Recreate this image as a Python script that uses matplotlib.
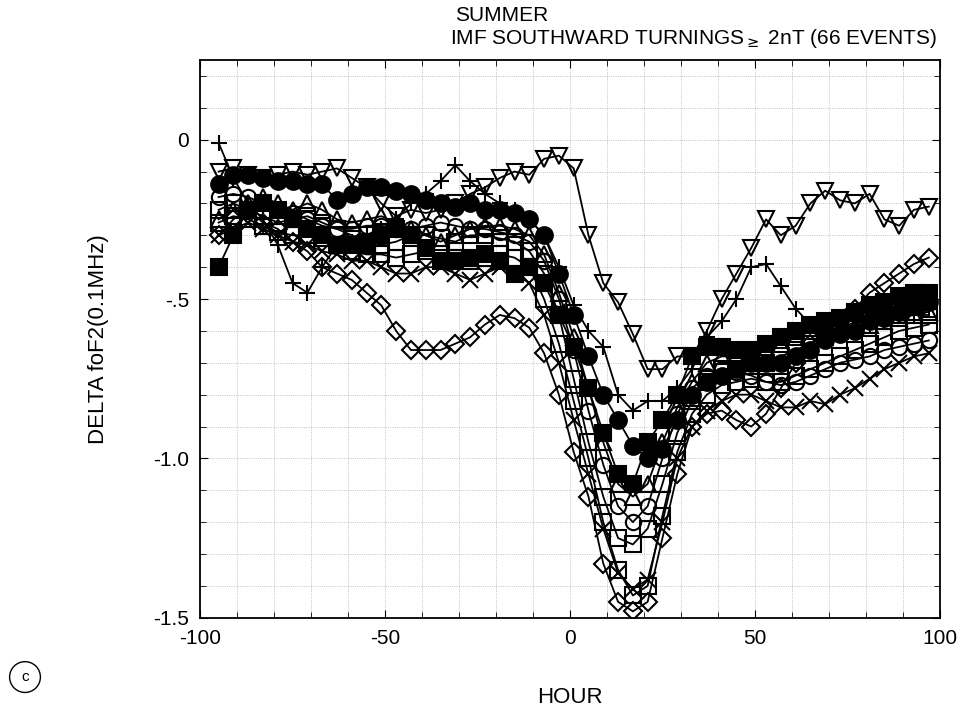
import numpy as np
import matplotlib
matplotlib.use('Agg')
import matplotlib.pyplot as plt
from matplotlib.ticker import MultipleLocator, FixedLocator

plt.rcParams['font.family'] = ['Liberation Sans', 'DejaVu Sans']

# hours since the IMF southward turning (sampled every 4 h)
hours = np.arange(-95, 98, 4)

tri_down = [-0.10, -0.09, -0.11, -0.12, -0.11, -0.10, -0.11, -0.10, -0.09, -0.12,
            -0.15, -0.20, -0.24, -0.22, -0.23, -0.22, -0.20, -0.17, -0.15, -0.12,
            -0.10, -0.11, -0.06, -0.05, -0.09, -0.30, -0.45, -0.51, -0.61, -0.72,
            -0.72, -0.68, -0.68, -0.60, -0.50, -0.42, -0.34, -0.25, -0.30, -0.27,
            -0.20, -0.16, -0.19, -0.20, -0.17, -0.25, -0.27, -0.22, -0.21]
plus = [-0.01, -0.12, -0.20, -0.25, -0.33, -0.45, -0.48, -0.40, -0.33, -0.32,
        -0.30, -0.28, -0.25, -0.20, -0.17, -0.13, -0.08, -0.13, -0.17, -0.20,
        -0.22, -0.25, -0.30, -0.40, -0.52, -0.60, -0.65, -0.80, -0.85, -0.82,
        -0.82, -0.78, -0.72, -0.62, -0.57, -0.50, -0.40, -0.39, -0.46, -0.53,
        -0.58, -0.60, -0.60, -0.57, -0.58, -0.57, -0.55, -0.55, -0.53]
dot = [-0.14, -0.11, -0.11, -0.12, -0.13, -0.13, -0.14, -0.14, -0.19, -0.17,
       -0.15, -0.15, -0.16, -0.17, -0.19, -0.20, -0.21, -0.20, -0.22, -0.22,
       -0.23, -0.25, -0.30, -0.42, -0.55, -0.68, -0.80, -0.88, -0.96, -1.00,
       -0.97, -0.88, -0.80, -0.76, -0.74, -0.72, -0.70, -0.70, -0.70, -0.68,
       -0.66, -0.63, -0.61, -0.60, -0.57, -0.56, -0.54, -0.52, -0.51]
block = [-0.40, -0.30, -0.22, -0.20, -0.22, -0.25, -0.28, -0.30, -0.33, -0.33,
         -0.33, -0.30, -0.28, -0.30, -0.34, -0.38, -0.38, -0.37, -0.36, -0.38,
         -0.42, -0.40, -0.45, -0.55, -0.65, -0.78, -0.92, -1.05, -1.08, -0.95,
         -0.88, -0.80, -0.68, -0.65, -0.65, -0.66, -0.66, -0.64, -0.62, -0.60,
         -0.58, -0.57, -0.56, -0.54, -0.52, -0.51, -0.49, -0.48, -0.48]
diamond = [-0.30, -0.25, -0.22, -0.26, -0.28, -0.32, -0.35, -0.40, -0.42, -0.44,
           -0.48, -0.52, -0.60, -0.66, -0.66, -0.66, -0.64, -0.62, -0.58, -0.55,
           -0.56, -0.59, -0.67, -0.80, -0.98, -1.12, -1.33, -1.45, -1.48, -1.45,
           -1.25, -1.05, -0.90, -0.86, -0.85, -0.88, -0.90, -0.86, -0.78, -0.70,
           -0.64, -0.60, -0.57, -0.53, -0.48, -0.45, -0.42, -0.39, -0.37]
square_a = [-0.22, -0.20, -0.22, -0.24, -0.26, -0.25, -0.24, -0.26, -0.28, -0.30,
            -0.32, -0.33, -0.32, -0.30, -0.30, -0.31, -0.32, -0.30, -0.30, -0.31,
            -0.32, -0.35, -0.42, -0.55, -0.75, -0.95, -1.12, -1.25, -1.27, -1.22,
            -1.08, -0.92, -0.82, -0.76, -0.72, -0.72, -0.71, -0.70, -0.68, -0.66,
            -0.64, -0.62, -0.60, -0.58, -0.55, -0.54, -0.53, -0.55, -0.55]
square_b = [-0.26, -0.24, -0.25, -0.27, -0.29, -0.30, -0.30, -0.31, -0.33, -0.35,
            -0.36, -0.36, -0.37, -0.36, -0.35, -0.36, -0.37, -0.38, -0.37, -0.36,
            -0.37, -0.40, -0.50, -0.64, -0.82, -1.00, -1.20, -1.35, -1.43, -1.40,
            -1.18, -0.98, -0.86, -0.80, -0.77, -0.76, -0.75, -0.76, -0.76, -0.74,
            -0.72, -0.70, -0.68, -0.66, -0.64, -0.62, -0.60, -0.59, -0.58]
cross = [-0.30, -0.28, -0.26, -0.28, -0.30, -0.32, -0.33, -0.35, -0.36, -0.38,
         -0.38, -0.40, -0.42, -0.42, -0.40, -0.40, -0.42, -0.44, -0.42, -0.40,
         -0.42, -0.45, -0.55, -0.70, -0.88, -1.05, -1.22, -1.36, -1.41, -1.38,
         -1.20, -1.00, -0.90, -0.85, -0.82, -0.80, -0.80, -0.82, -0.84, -0.84,
         -0.82, -0.83, -0.80, -0.78, -0.75, -0.72, -0.70, -0.68, -0.67]
ring = [-0.18, -0.17, -0.18, -0.20, -0.22, -0.23, -0.25, -0.27, -0.28, -0.28,
        -0.27, -0.27, -0.28, -0.28, -0.27, -0.26, -0.27, -0.28, -0.28, -0.29,
        -0.30, -0.32, -0.38, -0.50, -0.66, -0.85, -1.02, -1.15, -1.20, -1.15,
        -1.00, -0.86, -0.78, -0.74, -0.72, -0.73, -0.74, -0.76, -0.77, -0.76,
        -0.74, -0.72, -0.70, -0.69, -0.68, -0.66, -0.65, -0.64, -0.63]
tri_up = [-0.25, -0.22, -0.20, -0.18, -0.20, -0.22, -0.20, -0.22, -0.25, -0.26,
          -0.25, -0.24, -0.26, -0.28, -0.30, -0.32, -0.30, -0.28, -0.27, -0.27,
          -0.28, -0.30, -0.36, -0.48, -0.62, -0.78, -0.95, -1.08, -1.12, -1.08,
          -0.95, -0.84, -0.76, -0.70, -0.68, -0.68, -0.67, -0.66, -0.64, -0.62,
          -0.60, -0.58, -0.56, -0.56, -0.58, -0.57, -0.56, -0.55, -0.54]

fig = plt.figure(figsize=(9.62, 7.06), dpi=100)
ax = fig.add_axes([0.208, 0.125, 0.769, 0.790])

# (values, marker, filled)
series = [
    (diamond, 'D', False),
    (cross, 'x', False),
    (square_b, 's', False),
    (square_a, 's', False),
    (ring, 'o', False),
    (tri_up, '^', False),
    (plus, '+', False),
    (tri_down, 'v', False),
    (block, 's', True),
    (dot, 'o', True),
]
for vals, mk, filled in series:
    ms = 9 if mk == 'D' else 11
    if filled:
        ms = 12
    ax.plot(hours, vals, color='black', lw=1.3, marker=mk, ms=ms,
            mfc='black' if filled else 'none', mec='black', mew=1.5)

ax.set_xlim(-100, 100)
ax.set_ylim(-1.5, 0.25)
ax.xaxis.set_major_locator(FixedLocator([-100, -50, 0, 50, 100]))
ax.xaxis.set_minor_locator(MultipleLocator(10))
ax.yaxis.set_major_locator(FixedLocator([0, -0.5, -1.0, -1.5]))
ax.yaxis.set_minor_locator(MultipleLocator(0.1))
ax.set_yticklabels(['0', '-.5', '-1.0', '-1.5'])
ax.set_xticklabels(['-100', '-50', '0', '50', '100'])
ax.tick_params(which='both', direction='in', top=True, right=True, labelsize=15)
ax.tick_params(which='major', length=6, pad=8)
ax.tick_params(which='minor', length=4)
ax.grid(which='both', linestyle=':', color='#b0b0b0', lw=0.6)
ax.set_axisbelow(True)
for sp in ax.spines.values():
    sp.set_linewidth(1.3)

ax.set_xlabel('HOUR', fontsize=16, labelpad=28)
ax.set_ylabel('DELTA foF2(0.1MHz)', fontsize=16, labelpad=32)

fig.text(0.473, 0.978, 'SUMMER', fontsize=15, ha='left', va='center')
fig.text(0.468, 0.945, r'IMF SOUTHWARD TURNINGS$_{\geq}$ 2nT (66 EVENTS)',
         fontsize=15, ha='left', va='center')
fig.text(0.026, 0.041, 'c', fontsize=11, ha='center', va='center',
         bbox=dict(boxstyle='circle,pad=0.55', fc='white', ec='black', lw=1.0))

fig.savefig('out.png', dpi=100)
